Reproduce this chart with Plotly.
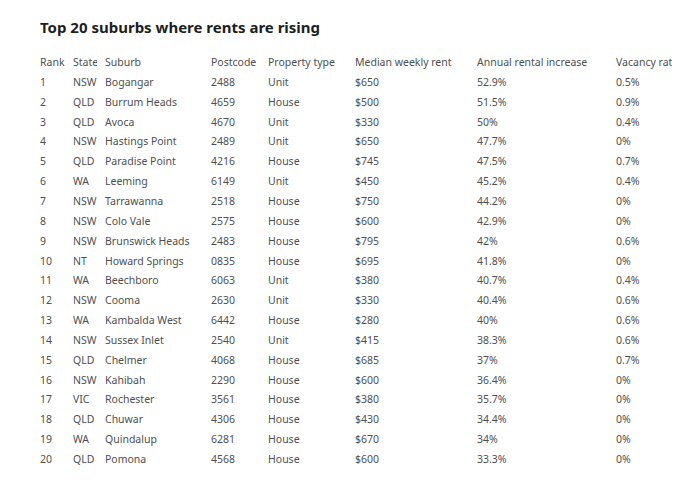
"""
    Top 20 suburbs where rents are rising, drawn as a plain plotly table
"""

import plotly.graph_objects as go

## data
rank = list(range(1, 21))
state = ['NSW', 'QLD', 'QLD', 'NSW', 'QLD', 'WA', 'NSW', 'NSW', 'NSW', 'NT',
         'WA', 'NSW', 'WA', 'NSW', 'QLD', 'NSW', 'VIC', 'QLD', 'WA', 'QLD']
suburb = ['Bogangar', 'Burrum Heads', 'Avoca', 'Hastings Point', 'Paradise Point',
          'Leeming', 'Tarrawanna', 'Colo Vale', 'Brunswick Heads', 'Howard Springs',
          'Beechboro', 'Cooma', 'Kambalda West', 'Sussex Inlet', 'Chelmer',
          'Kahibah', 'Rochester', 'Chuwar', 'Quindalup', 'Pomona']
postcode = ['2488', '4659', '4670', '2489', '4216', '6149', '2518', '2575', '2483', '0835',
            '6063', '2630', '6442', '2540', '4068', '2290', '3561', '4306', '6281', '4568']
property_type = ['Unit', 'House', 'Unit', 'Unit', 'House', 'Unit', 'House', 'House', 'House', 'House',
                 'Unit', 'Unit', 'House', 'Unit', 'House', 'House', 'House', 'House', 'House', 'House']
median_rent = [650, 500, 330, 650, 745, 450, 750, 600, 795, 695,
               380, 330, 280, 415, 685, 600, 380, 430, 670, 600]
annual_increase = [52.9, 51.5, 50, 47.7, 47.5, 45.2, 44.2, 42.9, 42, 41.8,
                   40.7, 40.4, 40, 38.3, 37, 36.4, 35.7, 34.4, 34, 33.3]
vacancy_rate = [0.5, 0.9, 0.4, 0, 0.7, 0.4, 0, 0, 0.6, 0,
                0.4, 0.6, 0.6, 0.6, 0.7, 0, 0, 0, 0, 0]
headers = ['Rank', 'State', 'Suburb', 'Postcode', 'Property type',
           'Median weekly rent', 'Annual rental increase', 'Vacancy rate']

## style settings
W, H = 688, 482
TEXT = '#4f4f4f'
FONT = 'Noto Sans'
col_px = [33, 32, 106, 57, 87, 122, 139, 64]


def nowrap(items):
    """ keep plotly's table from wrapping text at spaces """
    return [str(s).replace(' ', '\u00a0') for s in items]


fig = go.Figure()
fig.add_trace(go.Table(
    ## the last column is cut at its boundary, as in the source page
    domain = dict(x = [24 / W, 664 / W], y = [0, 1 - 42 / H]),
    columnwidth = col_px,
    header = dict(
        values = nowrap(headers), align = 'left', height = 20,
        fill = dict(color = 'white'), line = dict(width = 0, color = 'white'),
        font = dict(family = FONT, size = 10.5, color = TEXT)
        ),
    cells = dict(
        values = [
            [str(r) for r in rank], state, nowrap(suburb), postcode, property_type,
            ['$' + str(v) for v in median_rent],
            ['{:g}%'.format(v) for v in annual_increase],
            ['{:g}%'.format(v) for v in vacancy_rate]
            ],
        align = 'left', height = 19.85,
        fill = dict(color = 'white'), line = dict(width = 0, color = 'white'),
        font = dict(family = FONT, size = 10.5, color = TEXT)
        )
    ))

fig.update_layout(
    width = W, height = H,
    margin = dict(l = 0, r = 0, t = 0, b = 0),
    paper_bgcolor = 'white', plot_bgcolor = 'white',
    title = dict(
        text = '<b>Top 20 suburbs where rents are rising</b>',
        xref = 'container', yref = 'container',
        x = 32 / W, xanchor = 'left', y = 1 - 20 / H, yanchor = 'middle',
        font = dict(family = FONT, size = 15, color = '#1e1e1e')
        )
    )

fig.write_html('out.html')
